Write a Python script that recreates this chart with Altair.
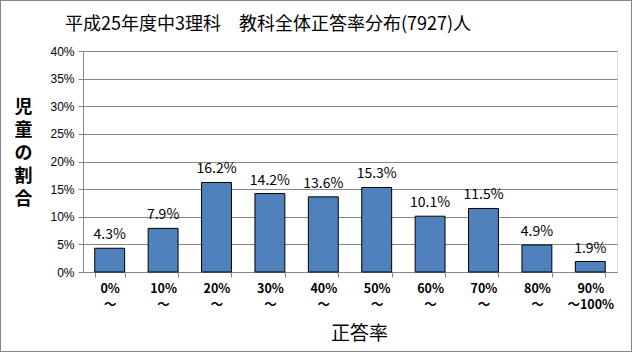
import altair as alt
import pandas as pd

range_start = ["0%", "10%", "20%", "30%", "40%", "50%", "60%", "70%", "80%", "90%"]
range_end = ["～", "～", "～", "～", "～", "～", "～", "～", "～", "～100%"]
share = [4.3, 7.9, 16.2, 14.2, 13.6, 15.3, 10.1, 11.5, 4.9, 1.9]

cats = [s + "\n" + e for s, e in zip(range_start, range_end)]
df = pd.DataFrame({"cat": cats, "share": share, "label": [f"{v:.1f}%" for v in share]})

FONT = "Noto Sans CJK JP"

x = alt.X("cat:N", sort=cats, title="正答率",
          scale=alt.Scale(paddingInner=0.44, paddingOuter=0.22),
          axis=alt.Axis(labelAngle=0,
                        labelExpr="isValid(datum.value) ? split(datum.value, '\\n') : ''",
                        labelFont=FONT, labelFontSize=12.5, labelFontWeight="bold",
                        labelLineHeight=16, labelPadding=5, labelColor="black",
                        tickBand="extent", tickColor="#868686", tickSize=5,
                        domainColor="#868686",
                        titleFont=FONT, titleFontSize=19, titleFontWeight="normal",
                        titleX=276, titleY=61, titleBaseline="middle", titleColor="black"))
y = alt.Y("share:Q", title=["児", "童", "の", "割", "合"],
          scale=alt.Scale(domain=[0, 40], nice=False),
          axis=alt.Axis(values=[0, 5, 10, 15, 20, 25, 30, 35, 40],
                        labelExpr="datum.value + '%'", labelFont="Liberation Sans",
                        labelFontSize=12, labelColor="black", labelPadding=4,
                        tickColor="#868686", tickSize=5, domainColor="#868686",
                        gridColor="#868686", grid=True,
                        titleFont=FONT, titleFontSize=18, titleFontWeight="bold",
                        titleAngle=0, titleX=-60, titleY=56, titleAlign="center",
                        titleBaseline="middle", titleLineHeight=23, titleColor="black"))

bars = alt.Chart(df).mark_bar(color="#4F81BD", stroke="black", strokeWidth=1).encode(x=x, y=y)
text = alt.Chart(df).mark_text(font=FONT, fontSize=14, dy=-6, baseline="bottom",
                               color="black").encode(x=x, y=y, text="label:N")
border = alt.Chart(df).mark_rect(fill=None, stroke="#868686", strokeWidth=1).encode(
    x=alt.value(-82.5), x2=alt.value(548.5), y=alt.value(-50.5), y2=alt.value(79.5 + 221))

chart = alt.layer(border, bars, text).properties(
    width=534, height=221,
    title=alt.TitleParams("平成25年度中3理科　教科全体正答率分布(7927)人", font=FONT,
                          fontSize=18, fontWeight="normal", anchor="start", frame="group",
                          dx=-18, offset=-34, color="black"),
    autosize=alt.AutoSizeParams(type="none"),
    padding={"left": 83, "top": 51, "right": 16, "bottom": 81},
).configure_view(stroke=None).configure(background="white")

chart.save("out.html", embed_options={"renderer": "svg", "actions": False})
